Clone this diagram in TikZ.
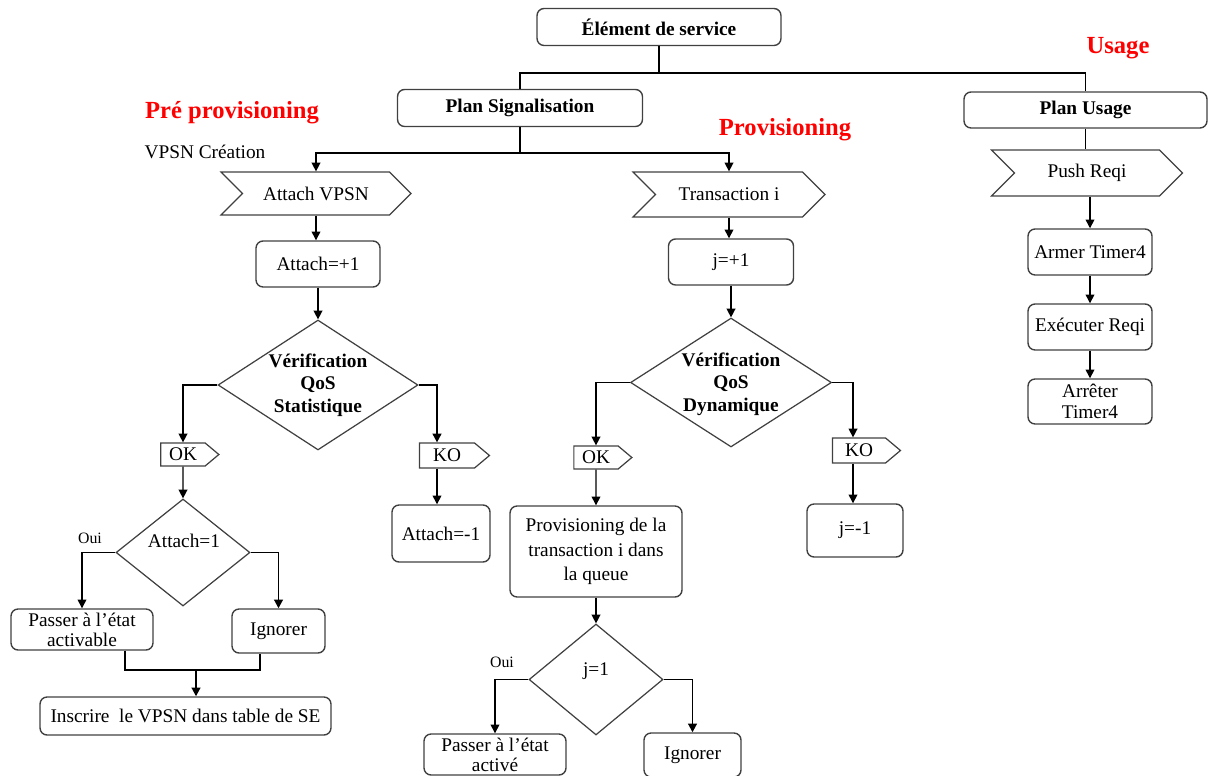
\documentclass[tikz,border=0pt]{standalone}
\usepackage{fontspec}
\setmainfont{Liberation Serif}
\usetikzlibrary{shapes.geometric,shapes.symbols,arrows.meta}

\tikzset{
	box/.style={draw=black!75, line width=0.8pt, rounded corners=4pt, align=center, inner sep=1pt},
	sigbox/.style={draw=black!75, line width=0.7pt, shape=signal, signal to=east, signal from=west, signal pointer angle=90, inner sep=1pt},
	flagbox/.style={draw=black!75, line width=0.7pt, shape=signal, signal to=east, signal pointer angle=80, inner sep=1pt},
	cond/.style={draw=black!75, line width=0.7pt, shape=diamond, inner sep=0pt},
	condtxt/.style={align=center, font=\fontsize{11}{12.7}\selectfont\bfseries},
	bold/.style={font=\fontsize{11}{13}\selectfont\bfseries},
	title/.style={text=red, font=\fontsize{14}{16}\selectfont\bfseries},
	arr/.style={line width=0.8pt, -{Triangle[length=5pt,width=5pt]}},
	arrb/.style={line width=1.1pt, -{Triangle[length=5pt,width=5pt]}}
}

\begin{document}
\begin{tikzpicture}[x=0.02cm, y=-0.02cm, font=\fontsize{11}{13}\selectfont, line width=0.8pt]
			\useasboundingbox (0,0) rectangle (1209,776);
			\node[box,bold,minimum width=4.88cm,minimum height=0.74cm] (se) at (659,27) {Élément de service};
			\node[box,bold,minimum width=4.9cm,minimum height=0.74cm] (ps) at (520,108) {Plan Signalisation};
			\node[box,bold,minimum width=4.86cm,minimum height=0.72cm] (pu) at (1085.5,110) {Plan Usage};
			\node[title] (tusage) at (1118,48) {Usage};
			\node[title] (tpre) at (232,113) {Pré provisioning};
			\node[title] (tprov) at (785,130) {Provisioning};
			\node (vpsnc) at (205,152) {VPSN Création};
			\node[sigbox,minimum width=3.8cm,minimum height=0.86cm] (av) at (316,193.5) {Attach VPSN};
			\node[sigbox,minimum width=3.84cm,minimum height=0.9cm] (ti) at (729,194.5) {Transaction i};
			\node[sigbox,minimum width=3.82cm,minimum height=0.92cm] (pr) at (1087,173) {Push Reqi};
			\node[box,minimum width=2.48cm,minimum height=0.92cm] (a1) at (318,264) {Attach=+1};
			\node[box,minimum width=2.5cm,minimum height=0.92cm] (j1) at (731,262) {j=+1};
			\node[box,minimum width=2.48cm,minimum height=0.92cm] (at) at (1090,252) {Armer Timer4};
			\node[box,minimum width=2.48cm,minimum height=0.92cm] (ex) at (1090,327) {Exécuter Reqi};
			\node[box,minimum width=2.48cm,minimum height=0.9cm,font=\fontsize{11}{12}\selectfont] (ar) at (1090,401.5) {Arrêter\\Timer4};
			\node[cond,minimum width=4cm,minimum height=2.6cm] (d1) at (318,385) {};
			\node[condtxt] (d1t) at (318,385) {Vérification\\QoS\\Statistique};
			\node[cond,minimum width=4.02cm,minimum height=2.58cm] (d2) at (731,382.5) {};
			\node[condtxt] (d2t) at (731,384) {Vérification\\QoS\\Dynamique};
			\node[flagbox,minimum width=1.16cm,minimum height=0.46cm] (ok1) at (183,454.5) {OK};
			\node[flagbox,minimum width=1.4cm,minimum height=0.5cm] (ko1) at (447,455.5) {KO};
			\node[flagbox,minimum width=1.16cm,minimum height=0.46cm] (ok2) at (596,457.5) {OK};
			\node[flagbox,minimum width=1.36cm,minimum height=0.5cm] (ko2) at (859,450.5) {KO};
			\node[cond,minimum width=2.68cm,minimum height=2.14cm] (d3) at (183,552.5) {};
			\node (d3t) at (184,541) {Attach=1};
			\node[font=\fontsize{9}{10}\selectfont] (oui1) at (90,538) {Oui};
			\node[box,minimum width=1.96cm,minimum height=1.14cm] (am1) at (441,533.5) {Attach=-1};
			\node[box,minimum width=3.44cm,minimum height=1.82cm,font=\fontsize{11}{14}\selectfont] (pv) at (596,551.5) {Provisioning de la\\transaction i dans\\la queue};
			\node[box,minimum width=1.92cm,minimum height=1.06cm] (jm1) at (855,530.5) {j=-1};
			\node[box,minimum width=2.84cm,minimum height=0.82cm,font=\fontsize{11}{11.5}\selectfont] (pa1) at (82,629.5) {Passer à l’état\\activable};
			\node[box,minimum width=1.86cm,minimum height=0.88cm] (ig1) at (278.5,631) {Ignorer};
			\node[box,minimum width=5.82cm,minimum height=0.76cm] (ins) at (185.5,716) {Inscrire~ le VPSN dans table de SE};
			\node[cond,minimum width=2.68cm,minimum height=2.22cm] (d4) at (596,679.5) {};
			\node (d4t) at (596,671) {j=1};
			\node[font=\fontsize{9}{10}\selectfont] (oui2) at (502,662) {Oui};
			\node[box,minimum width=2.84cm,minimum height=0.82cm,font=\fontsize{11}{11.5}\selectfont] (pa2) at (495,754.5) {Passer à l’état\\activé};
			\node[box,minimum width=1.94cm,minimum height=0.88cm] (ig2) at (692.5,755) {Ignorer};
			\draw (se.south) -- ++(0,27) coordinate (b1);
			\draw (ps.north) |- (b1) -| (pu.north);
			\draw (ps.south) -- ++(0,26) coordinate (b2);
			\draw[arr] (b2) -| (av.north);
			\draw[arr] (b2) -| (ti.north);
			\draw (pu.south) -- (pu.south |- pr.north);
			\draw[arr] (pr.south -| at.north) -- (at.north);
			\draw[arr] (at) -- (ex);
			\draw[arr] (ex) -- (ar);
			\draw[arr] (av.south) -- (av.south |- a1.north);
			\draw[arr] (a1) -- (d1);
			\draw[arr] (d1.west) -| (ok1.north);
			\draw[arrb] (d1.east) -| ([xshift=-0.2cm]ko1.north);
			\draw[arr] (ok1) -- (d3);
			\draw[arr] ([xshift=-0.2cm]ko1.south) -- ([xshift=-0.2cm]ko1.south |- am1.north);
			\draw[arr] (d3.west) -| (pa1.north);
			\draw[arrb] (d3.east) -| (ig1.north);
			\coordinate (m1) at (196,670);
			\draw ([xshift=0.86cm]pa1.south) |- (m1) -| ([xshift=-0.37cm]ig1.south);
			\draw[arrb] (m1) -- (m1 |- ins.north);
			\draw[arr] (ti.south) -- (ti.south |- j1.north);
			\draw[arr] (j1) -- (d2);
			\draw[arr] (d2.west) -| (ok2.north);
			\draw[arr] (d2.east) -| ([xshift=-0.12cm]ko2.north);
			\draw[arr] (ok2) -- (pv);
			\draw[arr] ([xshift=-0.12cm]ko2.south) -- ([xshift=-0.12cm]ko2.south |- jm1.north);
			\draw[arr] (pv) -- (d4);
			\draw[arr] (d4.west) -| (pa2.north);
			\draw[arrb] (d4.east) -| (ig2.north);
	\end{tikzpicture}
\end{document}
